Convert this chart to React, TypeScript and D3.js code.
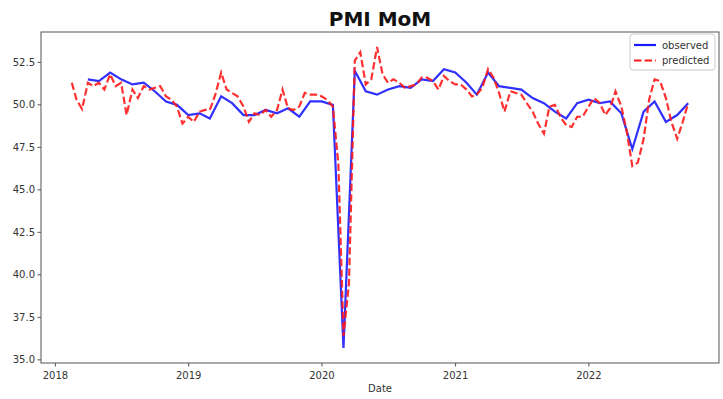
import React from "react";
import * as d3 from "d3";

// observed PMI, one value per month end, from March 2018
const observedStart = "2018-03";
const observedValues = [
  51.5, 51.4, 51.9, 51.5, 51.2, 51.3, 50.8, 50.2, 50.0, 49.4,
  49.5, 49.2, 50.5, 50.1, 49.4, 49.4, 49.7, 49.5, 49.8, 49.3, 50.2, 50.2,
  50.0, 35.7, 52.0, 50.8, 50.6, 50.9, 51.1, 51.0, 51.5, 51.4, 52.1, 51.9,
  51.3, 50.6, 51.9, 51.1, 51.0, 50.9, 50.4, 50.1, 49.6, 49.2, 50.1, 50.3,
  50.1, 50.2, 49.5, 47.4, 49.6, 50.2, 49.0, 49.4, 50.1,
];

// predicted, two values per month (mid month, month end), from February 2018
const predictedStart = "2018-02";
const predictedValues = [
  51.3, 50.3, 49.75, 51.3, 51.1, 51.3, 50.9, 51.8, 51.1, 51.3, 49.4, 50.9,
  50.4, 51.1, 50.9, 51.0, 51.1, 50.5, 50.3, 49.9, 48.9, 49.3,
  49.0, 49.6, 49.7, 49.7, 50.6, 51.9, 50.9, 50.7, 50.5, 49.9, 49.0, 49.5,
  49.4, 49.7, 49.3, 49.7, 50.9, 49.8, 49.7, 49.9, 50.7, 50.6, 50.6, 50.5,
  50.3, 49.9, 46.5, 36.4, 39.5, 52.6, 53.1, 51.2, 51.5, 53.4, 51.8, 51.3,
  51.5, 51.3, 51.0, 51.1, 51.2, 51.6, 51.6, 51.4, 50.9, 51.7, 51.4, 51.2,
  51.2, 50.9, 50.5, 50.6, 51.0, 52.1, 51.6, 50.7, 49.6, 50.8, 50.7, 50.6,
  50.1, 49.6, 48.9, 48.3, 49.9, 50.0, 49.3, 48.8, 48.7, 49.3, 49.3, 49.9,
  50.4, 50.1, 49.4, 49.8, 50.8, 49.9, 48.4, 46.4, 46.6, 48.0, 50.3, 51.5,
  51.4, 50.4, 49.0, 48.0, 49.0, 50.1,
];

const yearTicks = ["2018", "2019", "2020", "2021", "2022"];
const yTicks = [35, 37.5, 40, 42.5, 45, 47.5, 50, 52.5];
const seriesNames = ["observed", "predicted"];

const W = 723;
const H = 399;
const margin = { top: 32, right: 4, bottom: 36, left: 41 };
const font = "DejaVu Sans, sans-serif";

const parseMonth = d3.timeParse("%Y-%m");
const parseYear = d3.timeParse("%Y");

type Pt = { date: Date; value: number };

export default function App() {
  const obsStart = parseMonth(observedStart) as Date;
  const observed: Pt[] = observedValues.map((v, i) => ({
    date: d3.timeDay.offset(d3.timeMonth.offset(obsStart, i + 1), -1),
    value: v,
  }));
  const predStart = parseMonth(predictedStart) as Date;
  const predicted: Pt[] = predictedValues.map((v, i) => {
    const m = d3.timeMonth.offset(predStart, Math.floor(i / 2));
    const date =
      i % 2 === 0
        ? d3.timeDay.offset(m, 14)
        : d3.timeDay.offset(d3.timeMonth.offset(m, 1), -1);
    return { date, value: v };
  });

  const all = [...observed, ...predicted];
  const [t0, t1] = d3.extent(all, (d) => +d.date) as [number, number];
  const [v0, v1] = d3.extent(all, (d) => d.value) as [number, number];
  const tPad = (t1 - t0) * 0.05;
  const vPad = (v1 - v0) * 0.05;

  const x = d3
    .scaleTime()
    .domain([new Date(t0 - tPad), new Date(t1 + tPad)])
    .range([margin.left, W - margin.right]);
  const y = d3
    .scaleLinear()
    .domain([v0 - vPad, v1 + vPad])
    .range([H - margin.bottom, margin.top]);

  const line = d3
    .line<Pt>()
    .x((d) => x(d.date))
    .y((d) => y(d.value));

  const plotL = margin.left;
  const plotR = W - margin.right;
  const plotT = margin.top;
  const plotB = H - margin.bottom;
  const legX = 630;
  const legY = 34;

  return (
    <div style={{ position: "absolute", left: 0, top: 0 }}>
      <svg width={W} height={H} style={{ display: "block", background: "#fff" }}>
        <text
          x={(plotL + plotR) / 2}
          y={26}
          textAnchor="middle"
          fontFamily={font}
          fontWeight="bold"
          fontSize={20}
          fill="#111"
        >
          PMI MoM
        </text>

        <path d={line(observed) ?? ""} fill="none" stroke="#1a1aff" strokeWidth={2.2} strokeOpacity={0.9} />
        <path
          d={line(predicted) ?? ""}
          fill="none"
          stroke="#ff1a1a"
          strokeWidth={2.2}
          strokeOpacity={0.9}
          strokeDasharray="7.4,3.2"
        />

        <rect
          x={plotL}
          y={plotT}
          width={plotR - plotL}
          height={plotB - plotT}
          fill="none"
          stroke="#555"
          strokeWidth={1}
        />

        {yTicks.map((t) => (
          <g key={t} transform={`translate(0,${y(t)})`}>
            <line x1={plotL - 3.5} x2={plotL} stroke="#555" />
            <text
              x={plotL - 6}
              dy="0.35em"
              textAnchor="end"
              fontFamily={font}
              fontSize={10}
              fill="#333"
            >
              {d3.format(".1f")(t)}
            </text>
          </g>
        ))}

        {yearTicks.map((yr) => {
          const px = x(parseYear(yr) as Date);
          return (
            <g key={yr} transform={`translate(${px},0)`}>
              <line y1={plotB} y2={plotB + 3.5} stroke="#555" />
              <text
                y={plotB + 16}
                textAnchor="middle"
                fontFamily={font}
                fontSize={10}
                fill="#333"
              >
                {yr}
              </text>
            </g>
          );
        })}

        <text
          x={(plotL + plotR) / 2}
          y={392}
          textAnchor="middle"
          fontFamily={font}
          fontSize={10}
          fill="#333"
        >
          Date
        </text>

        <g>
          <rect
            x={legX}
            y={legY}
            width={85}
            height={36}
            rx={3}
            fill="#fff"
            fillOpacity={0.8}
            stroke="#ccc"
          />
          {seriesNames.map((name, i) => {
            const ly = legY + 11 + i * 15.5;
            return (
              <g key={name}>
                <line
                  x1={legX + 4}
                  x2={legX + 26}
                  y1={ly}
                  y2={ly}
                  stroke={i === 0 ? "#1a1aff" : "#ff1a1a"}
                  strokeWidth={2.2}
                  strokeDasharray={i === 0 ? undefined : "7.4,3.2"}
                />
                <text
                  x={legX + 32}
                  y={ly}
                  dy="0.35em"
                  fontFamily={font}
                  fontSize={10}
                  fill="#333"
                >
                  {name}
                </text>
              </g>
            );
          })}
        </g>
      </svg>
    </div>
  );
}
